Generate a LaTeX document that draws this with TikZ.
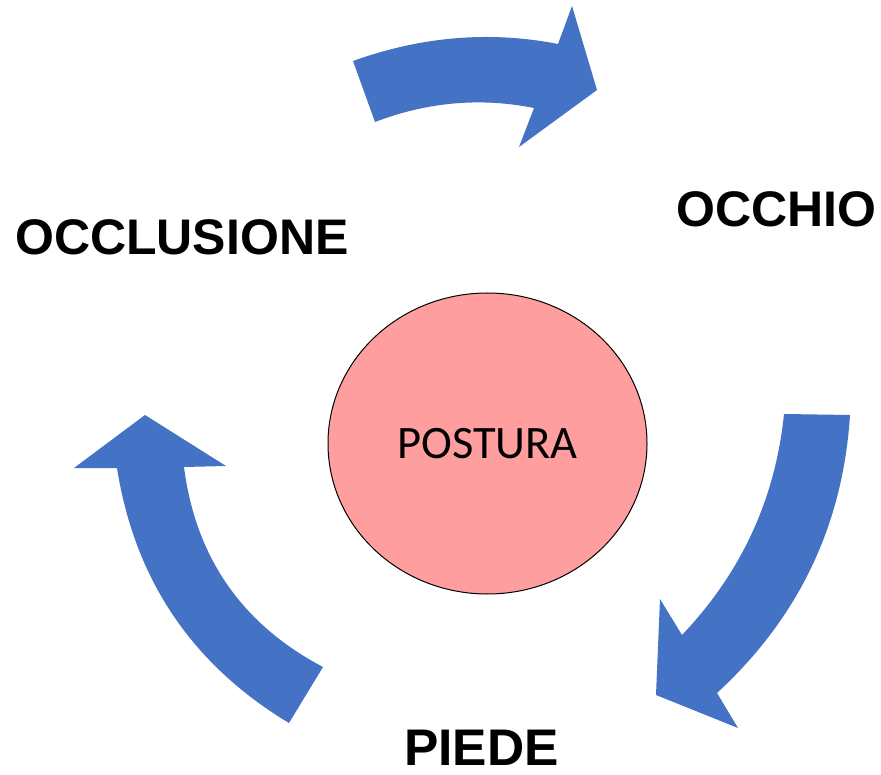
\documentclass[tikz,border=0pt]{standalone}
\usepackage{fontspec}
\usetikzlibrary{shapes.geometric}
\setmainfont{Liberation Sans}
\newfontfamily\calib{Carlito}
\definecolor{arrowblue}{HTML}{4472C4}
\definecolor{postpink}{HTML}{FF9E9E}
\begin{document}
\begin{tikzpicture}[x=1pt,y=-1pt,
  bigarrow/.style={fill=arrowblue,draw=none},
  label/.style={inner sep=0pt,anchor=base west,font=\fontsize{50}{55}\selectfont\bfseries}]
\useasboundingbox (0,0) rectangle (881,775);
% centre
\node[ellipse,minimum width=319pt,minimum height=301pt,draw=black,line width=1pt,fill=postpink,inner sep=0pt] (post) at (487.5,443.5) {};
\node[inner sep=0pt,anchor=base,font=\calib\fontsize{46.5}{50}\selectfont] (posttxt) at (487.5,458) {POSTURA};
% labels
\node[label] (occl) at (15,255) {OCCLUSIONE};
\node[label] (occhio) at (676,227) {OCCHIO};
\node[label,font=\fontsize{51.5}{55}\selectfont\bfseries] (piede) at (404,765) {PIEDE};
% top arrow
\fill[bigarrow] (353,61) .. controls (421.7,36.3) and (490,30.7) .. (558,44) -- (572,6) -- (597,90) -- (519,147) -- (534,108) .. controls (480.3,97.3) and (427.3,102) .. (375,122) -- cycle;
% right arrow
\fill[bigarrow] (784,414) -- (850,415) .. controls (843,525) and (798.7,617.7) .. (717,693) -- (738,728) -- (656,695) -- (660,599) -- (682,635) .. controls (741.3,572.7) and (775.3,499) .. (784,414) -- cycle;
% left arrow
\fill[bigarrow] (145,415) -- (226,466) -- (184,467) .. controls (195.7,557.7) and (242,624.3) .. (323,667) -- (289,723) .. controls (192.1,664.7) and (134.7,579.7) .. (117,468) -- (74,468) -- cycle;
\end{tikzpicture}
\end{document}
